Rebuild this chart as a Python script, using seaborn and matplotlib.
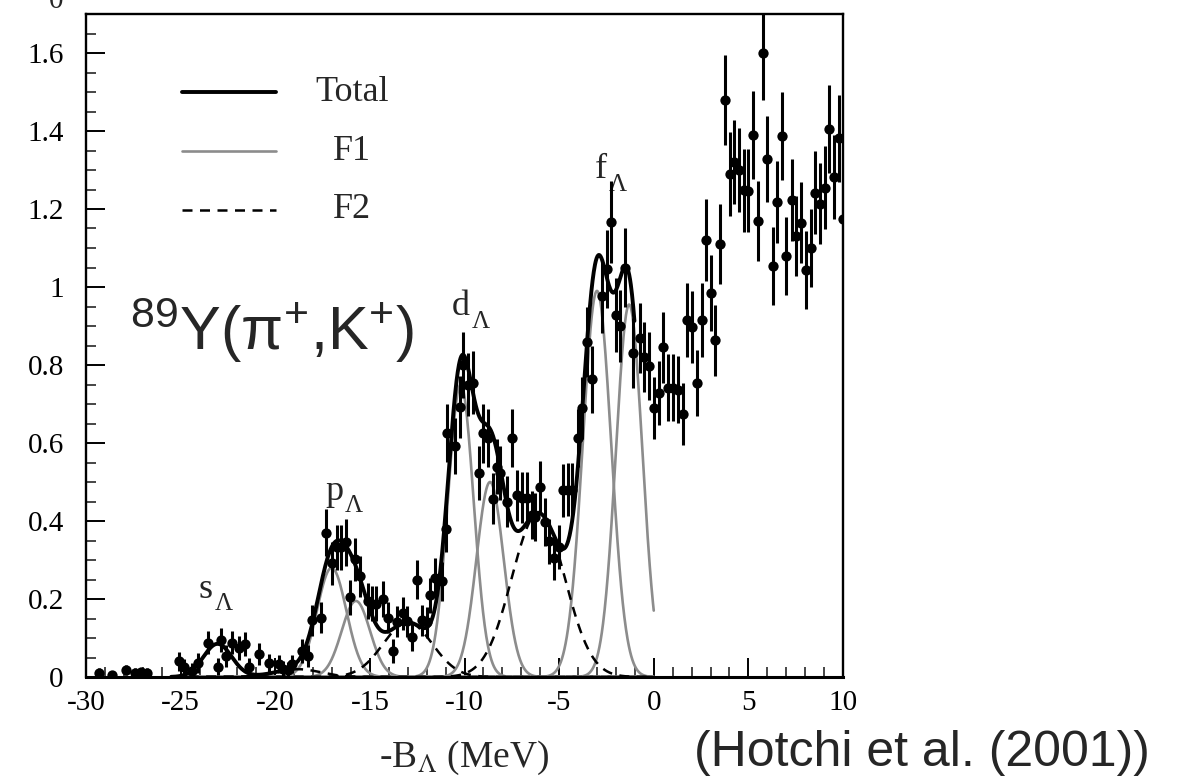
import numpy as np
import pandas as pd
import matplotlib
matplotlib.use("Agg")
import matplotlib.pyplot as plt
import seaborn as sns
from matplotlib.ticker import MultipleLocator, FormatStrFormatter

# ---------------- data ----------------
energy = [-29.3, -28.6, -27.9, -27.4, -27.1, -26.8,
          -25.1, -24.8, -24.4, -24.1, -23.55, -23.05, -22.85, -22.6, -22.3, -21.9,
          -21.6, -21.4, -20.85, -20.35, -19.8, -19.6, -19.3, -19.1, -18.6, -18.25,
          -18.05, -17.6, -17.3, -17.0, -16.75, -16.5, -16.27, -16.05, -15.78, -15.5,
          -15.1, -14.9, -14.7, -14.3, -14.05, -13.8, -13.55, -13.25, -13.05, -12.8,
          -12.52, -12.25, -12.0, -11.8, -11.55, -11.2, -11.0, -10.9, -10.5, -10.25,
          -10.1, -9.8, -9.55, -9.25, -9.0, -8.75, -8.5, -8.3, -8.1, -7.76,
          -7.5, -7.23, -6.97, -6.7, -6.44, -6.28, -6.0, -5.75, -5.54, -5.28,
          -5.0, -4.8, -4.55, -4.3, -4.0, -3.8, -3.53, -3.25, -2.75, -2.48,
          -2.27, -1.97, -1.8, -1.52, -1.1, -0.73, -0.5, -0.25, 0.0, 0.27,
          0.48, 0.75, 1.0, 1.27, 1.53, 1.75, 2.0, 2.28, 2.54, 2.75,
          3.0, 3.24, 3.5, 3.76, 4.02, 4.23, 4.5, 4.76, 5.0, 5.24,
          5.5, 5.77, 6.0, 6.3, 6.5, 6.77, 7.0, 7.3, 7.5, 7.77,
          8.03, 8.3, 8.5, 8.77, 9.04, 9.25, 9.5, 9.77, 10.0]
counts = [0.010, 0.004, 0.018, 0.010, 0.012, 0.010,
          0.040, 0.025, 0.015, 0.036, 0.088, 0.026, 0.095, 0.054, 0.088, 0.074,
          0.085, 0.026, 0.059, 0.036, 0.033, 0.020, 0.018, 0.033, 0.067, 0.054,
          0.145, 0.152, 0.370, 0.292, 0.333, 0.333, 0.345, 0.204, 0.302, 0.258,
          0.195, 0.188, 0.188, 0.200, 0.152, 0.067, 0.142, 0.163, 0.143, 0.102,
          0.250, 0.145, 0.140, 0.210, 0.255, 0.245, 0.380, 0.626, 0.592, 0.693,
          0.800, 0.750, 0.755, 0.523, 0.625, 0.613, 0.457, 0.539, 0.523, 0.450,
          0.613, 0.466, 0.460, 0.460, 0.415, 0.410, 0.487, 0.397, 0.348, 0.304,
          0.333, 0.479, 0.480, 0.480, 0.613, 0.690, 0.860, 0.763, 0.977, 1.046,
          1.167, 0.928, 0.900, 1.050, 0.830, 0.870, 0.820, 0.797, 0.690, 0.727,
          0.845, 0.742, 0.742, 0.737, 0.675, 0.915, 0.897, 0.753, 0.915, 1.121,
          0.985, 0.863, 1.110, 1.479, 1.289, 1.320, 1.300, 1.248, 1.247, 1.390,
          1.170, 1.600, 1.328, 1.054, 1.219, 1.387, 1.080, 1.222, 1.131, 1.165,
          1.044, 1.100, 1.242, 1.214, 1.255, 1.405, 1.283, 1.381, 1.175]
errors = [0.012, 0.010, 0.014, 0.012, 0.012, 0.012,
          0.025, 0.020, 0.020, 0.025, 0.030, 0.022, 0.030, 0.028, 0.030, 0.030,
          0.030, 0.022, 0.028, 0.024, 0.024, 0.020, 0.020, 0.024, 0.030, 0.028,
          0.040, 0.040, 0.060, 0.055, 0.058, 0.058, 0.060, 0.045, 0.055, 0.052,
          0.045, 0.045, 0.045, 0.045, 0.040, 0.030, 0.040, 0.042, 0.040, 0.035,
          0.050, 0.040, 0.040, 0.045, 0.050, 0.050, 0.060, 0.075, 0.072, 0.080,
          0.085, 0.080, 0.080, 0.070, 0.075, 0.075, 0.065, 0.070, 0.070, 0.065,
          0.075, 0.066, 0.066, 0.066, 0.062, 0.062, 0.068, 0.062, 0.058, 0.055,
          0.057, 0.068, 0.068, 0.068, 0.075, 0.080, 0.090, 0.085, 0.095, 0.100,
          0.105, 0.095, 0.092, 0.100, 0.090, 0.090, 0.090, 0.088, 0.080, 0.082,
          0.090, 0.085, 0.085, 0.085, 0.080, 0.095, 0.093, 0.085, 0.095, 0.105,
          0.097, 0.090, 0.103, 0.115, 0.108, 0.108, 0.108, 0.106, 0.106, 0.112,
          0.103, 0.120, 0.110, 0.100, 0.105, 0.112, 0.100, 0.105, 0.102, 0.103,
          0.100, 0.100, 0.106, 0.105, 0.106, 0.112, 0.108, 0.112, 0.100]

# fitted Gaussian components (centre, height, sigma)
f1_centers = [-23.05, -17.02, -15.74, -10.2, -8.65, -3.0, -1.3]
f1_heights = [0.085, 0.28, 0.195, 0.75, 0.50, 0.99, 0.955]
f1_sigmas = [0.75, 0.78, 0.75, 0.68, 0.72, 0.75, 0.70]
f2_centers = [-18.8, -13.0, -6.1]
f2_heights = [0.02, 0.14, 0.42]
f2_sigmas = [1.2, 1.3, 1.4]
comp_range = (-25.5, 0.0)
total_range = (-25.5, -1.0)

xticks = [-30, -25, -20, -15, -10, -5, 0, 5, 10]
yticks = [0, 0.2, 0.4, 0.6, 0.8, 1.0, 1.2, 1.4, 1.6]

# ---------------- style ----------------
sns.set_theme(style="ticks")
plt.rcParams["font.family"] = ["Liberation Serif", "DejaVu Serif"]
plt.rcParams["mathtext.fontset"] = "stix"
plt.rcParams["axes.unicode_minus"] = False

W, H = 1197, 778
fig = plt.figure(figsize=(W / 100, H / 100), dpi=100)
ax = fig.add_axes([86 / W, 1 - 677 / H, (843 - 86) / W, (677 - 14) / H])

grid = np.linspace(comp_range[0], comp_range[1], 1200)


def gauss(x, c, h, s):
    return h * np.exp(-0.5 * ((x - c) / s) ** 2)


rows = []
for i, (c, h, s) in enumerate(zip(f1_centers, f1_heights, f1_sigmas)):
    rows.append(pd.DataFrame({"E": grid, "y": gauss(grid, c, h, s), "comp": f"F1_{i}", "kind": "F1"}))
for i, (c, h, s) in enumerate(zip(f2_centers, f2_heights, f2_sigmas)):
    rows.append(pd.DataFrame({"E": grid, "y": gauss(grid, c, h, s), "comp": f"F2_{i}", "kind": "F2"}))
comps = pd.concat(rows, ignore_index=True)

tot = comps.groupby("E", as_index=False)["y"].sum()
tot = tot[(tot["E"] >= total_range[0]) & (tot["E"] <= total_range[1])]

gray = "#8c8c8c"
sns.lineplot(data=comps[comps.kind == "F1"], x="E", y="y", units="comp", estimator=None,
             color=gray, lw=1.9, ax=ax, legend=False, zorder=2)
sns.lineplot(data=comps[comps.kind == "F2"], x="E", y="y", units="comp", estimator=None,
             color="black", lw=1.8, ax=ax, legend=False, zorder=2, dashes=False)
for ln in ax.lines[len(f1_centers):]:
    ln.set_linestyle((0, (4, 3)))
sns.lineplot(data=tot, x="E", y="y", color="black", lw=2.8, ax=ax, legend=False, zorder=3)

pts = pd.DataFrame({"E": energy, "c": counts, "err": errors})
ax.errorbar(pts["E"], pts["c"], yerr=pts["err"], fmt="none", ecolor="black",
            elinewidth=2.2, capsize=0, zorder=4)
sns.scatterplot(data=pts, x="E", y="c", color="black", s=55, edgecolor="black",
                linewidth=0, ax=ax, zorder=5)

# ---------------- axes ----------------
ax.set_xlim(-30, 10)
ax.set_ylim(0, 1.70)
ax.set_xticks(xticks)
ax.set_yticks(yticks)
ax.xaxis.set_minor_locator(MultipleLocator(1))
ax.yaxis.set_minor_locator(MultipleLocator(0.05))
ax.yaxis.set_major_formatter(FormatStrFormatter("%g"))
ax.xaxis.set_major_formatter(FormatStrFormatter("%g"))
ax.tick_params(which="major", direction="in", length=14, width=1.4, labelsize=21,
               colors="black")
ax.tick_params(which="minor", direction="in", length=7, width=1.2)
ax.tick_params(axis="y", pad=16)
ax.tick_params(axis="x", pad=9)
for sp in ax.spines.values():
    sp.set_linewidth(1.7)
    sp.set_color("black")
ax.spines["bottom"].set_linewidth(2.2)

ax.set_ylabel("")
ax.set_xlabel(r"-B$_{\Lambda}$ (MeV)", fontsize=27)
ax.xaxis.set_label_coords(0.5, -0.093)

# legend drawn as keys + centred labels
leg = [("Total", dict(color="black", lw=2.8, ls="-")),
       ("F1", dict(color=gray, lw=1.9, ls="-")),
       ("F2", dict(color="black", lw=1.8, ls=(0, (4, 3))))]
for (lab, st), yy in zip(leg, [0.882, 0.793, 0.705]):
    ax.plot([0.127, 0.251], [yy, yy], transform=ax.transAxes, **st)
    ax.text(0.351, yy, lab, transform=ax.transAxes, ha="center", va="center", fontsize=26)

# peak labels: letter + lowered Λ subscript
peak_letters = ["s", "p", "d", "f"]
peak_x = [-24.03, -17.37, -10.67, -3.11]
peak_y = [0.203, 0.454, 0.928, 1.279]
letter_w = {"s": 0.389, "p": 0.5, "d": 0.5, "f": 0.333}
for lab, xx, yy in zip(peak_letters, peak_x, peak_y):
    ax.text(xx, yy, lab, fontsize=26, ha="left", va="baseline")
    ax.annotate("Λ", xy=(xx, yy), xytext=(letter_w[lab] * 26 + 1, -9),
                textcoords="offset points", fontsize=18, ha="left", va="baseline")

ax.text(-27.68, 0.838, r"$\mathregular{^{89}Y(\pi^{+}{,}K^{+})}$", fontsize=44,
        family=["Liberation Sans", "DejaVu Sans"], ha="left", va="baseline")

fig.text(694 / W, 1 - 766 / H, "(Hotchi et al. (2001))", fontsize=36,
         family=["Liberation Sans", "DejaVu Sans"], ha="left", va="baseline")
fig.text(56 / W, 1 - 8 / H, "0", fontsize=21, ha="center", va="baseline")

fig.savefig("out.png", dpi=100)
